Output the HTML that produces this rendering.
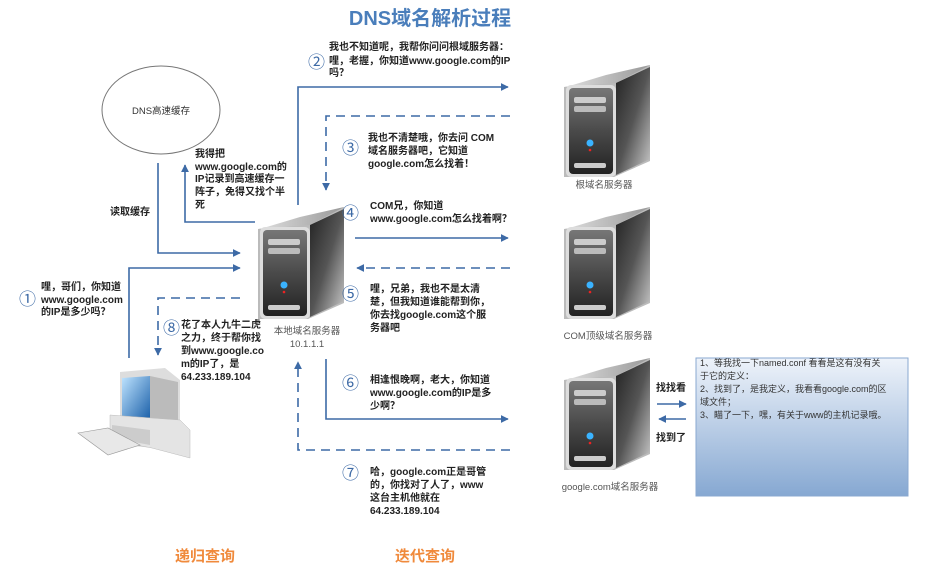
<!DOCTYPE html>
<html><head><meta charset="utf-8"><style>
body{margin:0;background:#fff}
svg{display:block}
text{font-family:"Liberation Sans","Noto Sans CJK SC",sans-serif}
.t{font-size:10px;font-weight:bold;fill:#222}
.n{font-size:17px;fill:#3d6aa6}
.l{font-size:9.5px;fill:#555}
</style></head><body>
<svg width="944" height="574" viewBox="0 0 944 574">
<defs>
<marker id="a" viewBox="0 0 10 10" refX="9" refY="5" markerWidth="5" markerHeight="5" orient="auto"><path d="M0,0L10,5L0,10z" fill="#3d6aa6"/></marker>
<linearGradient id="side" x1="0" y1="0" x2="1" y2="1"><stop offset="0" stop-color="#222"/><stop offset=".5" stop-color="#555"/><stop offset="1" stop-color="#ccc"/></linearGradient>
<linearGradient id="front" x1="0" y1="0" x2="0" y2="1"><stop offset="0" stop-color="#777"/><stop offset=".5" stop-color="#4a4a4a"/><stop offset="1" stop-color="#222"/></linearGradient>
<linearGradient id="top" x1="0" y1="0" x2="1" y2="0"><stop offset="0" stop-color="#ddd"/><stop offset="1" stop-color="#999"/></linearGradient>
<linearGradient id="box" x1="0" y1="0" x2="0" y2="1"><stop offset="0" stop-color="#eef3fa"/><stop offset="1" stop-color="#86a8d2"/></linearGradient>
<linearGradient id="scr" x1="0" y1="0" x2="1" y2="1"><stop offset="0" stop-color="#bfe4ff"/><stop offset="1" stop-color="#1a5fa8"/></linearGradient>
<g id="srv">
<path d="M2,22 L50,14 L88,0 L88,96 L52,112 L2,112z" fill="#bbb"/>
<path d="M4,22 L44,10 L88,0 L54,18z" fill="url(#top)"/>
<path d="M54,18 L88,2 L88,94 L54,110z" fill="url(#side)"/>
<rect x="4" y="20" width="50" height="92" rx="5" fill="#ddd"/>
<rect x="7" y="23" width="44" height="86" rx="4" fill="url(#front)"/>
<rect x="12" y="32" width="32" height="6" rx="2" fill="#ccc"/>
<rect x="12" y="41" width="32" height="6" rx="2" fill="#bbb"/>
<rect x="12" y="98" width="32" height="5" rx="2" fill="#ccc"/>
<circle cx="28" cy="78" r="3.5" fill="#3ab3ff"/>
<circle cx="28" cy="85" r="1.3" fill="#e22"/>
</g>
</defs>

<text x="430" y="25" text-anchor="middle" style="font-size:20px;font-weight:bold;fill:#4a7ebb">DNS域名解析过程</text>

<ellipse cx="161" cy="110" rx="59" ry="44" fill="#fff" stroke="#777" stroke-width="1"/>
<text x="161" y="114" text-anchor="middle" class="l" style="fill:#333">DNS高速缓存</text>

<g fill="none" stroke="#3d6aa6" stroke-width="1.6">
<path d="M158,163V253H240" marker-end="url(#a)"/>
<path d="M255,222H185V165" marker-end="url(#a)"/>
<path d="M129,358V268H240" marker-end="url(#a)"/>
<path d="M240,298H158V355" stroke-dasharray="9,6" marker-end="url(#a)"/>
<path d="M298,205V87H508" marker-end="url(#a)"/>
<path d="M510,116H326V190" stroke-dasharray="9,6" marker-end="url(#a)"/>
<path d="M355,238H508" marker-end="url(#a)"/>
<path d="M510,268H357" stroke-dasharray="9,6" marker-end="url(#a)"/>
<path d="M326,359V419H508" marker-end="url(#a)"/>
<path d="M510,450H298V362" stroke-dasharray="9,6" marker-end="url(#a)"/>
<path d="M657,404H686" marker-end="url(#a)"/>
<path d="M686,419H659" marker-end="url(#a)"/>
</g>

<use href="#srv" x="256" y="207"/>
<use href="#srv" x="562" y="65"/>
<use href="#srv" x="562" y="207"/>
<use href="#srv" x="562" y="358"/>

<g>
<path d="M120,372 L165,368 L180,380 L180,450 L120,445z" fill="#ddd"/>
<path d="M122,378 L150,376 L150,420 L122,418z" fill="url(#scr)"/>
<path d="M150,376 L178,382 L178,440 L150,430z" fill="#bbb"/>
<path d="M110,415 L180,420 L190,430 L190,458 L152,448 L110,440z" fill="#e4e4e4" stroke="#bbb" stroke-width=".5"/>
<path d="M112,425 L150,430 L150,445 L112,438z" fill="#ccc"/>
<path d="M78,433 L108,428 L140,445 L108,455z" fill="#e8e8e8" stroke="#999" stroke-width=".6"/>
</g>

<rect x="696" y="358" width="212" height="138" fill="url(#box)" stroke="#8aa8d0" stroke-width="1"/>
<g class="l" style="fill:#333;font-size:9px">
<text x="700" y="366">1、等我找一下named.conf 看看是这有没有关</text>
<text x="700" y="379">于它的定义：</text>
<text x="700" y="392">2、找到了，是我定义，我看看google.com的区</text>
<text x="700" y="405">域文件；</text>
<text x="700" y="418">3、瞄了一下，嘿，有关于www的主机记录哦。</text>
</g>

<g class="n">
<text x="308" y="68">②</text><text x="342" y="154">③</text><text x="342" y="219">④</text>
<text x="342" y="300">⑤</text><text x="342" y="389">⑥</text><text x="342" y="479">⑦</text>
<text x="163" y="334">⑧</text><text x="19" y="305">①</text>
</g>

<g class="t">
<text x="329" y="50">我也不知道呢，我帮你问问根域服务器：</text>
<text x="329" y="64">哩，老握，你知道www.google.com的IP</text>
<text x="329" y="76">吗？</text>
<text x="368" y="141">我也不清楚哦，你去问 COM</text>
<text x="368" y="154">域名服务器吧，它知道</text>
<text x="368" y="167">google.com怎么找着！</text>
<text x="370" y="209">COM兄，你知道</text>
<text x="370" y="222">www.google.com怎么找着啊？</text>
<text x="370" y="292">哩，兄弟，我也不是太清</text>
<text x="370" y="305">楚，但我知道谁能帮到你，</text>
<text x="370" y="318">你去找google.com这个服</text>
<text x="370" y="331">务器吧</text>
<text x="370" y="383">相逢恨晚啊，老大，你知道</text>
<text x="370" y="396">www.google.com的IP是多</text>
<text x="370" y="409">少啊？</text>
<text x="370" y="475">哈，google.com正是哥管</text>
<text x="370" y="488">的，你找对了人了，www</text>
<text x="370" y="501">这台主机他就在</text>
<text x="370" y="514">64.233.189.104</text>
<text x="181" y="328">花了本人九牛二虎</text>
<text x="181" y="341">之力，终于帮你找</text>
<text x="181" y="354">到www.google.co</text>
<text x="181" y="367">m的IP了，是</text>
<text x="181" y="380">64.233.189.104</text>
<text x="41" y="290">哩，哥们，你知道</text>
<text x="41" y="303">www.google.com</text>
<text x="41" y="315">的IP是多少吗？</text>
<text x="195" y="157">我得把</text>
<text x="195" y="170">www.google.com的</text>
<text x="195" y="182">IP记录到高速缓存一</text>
<text x="195" y="195">阵子，免得又找个半</text>
<text x="195" y="208">死</text>
<text x="110" y="215">读取缓存</text>
<text x="656" y="391">找找看</text>
<text x="656" y="441">找到了</text>
</g>

<g class="l" text-anchor="middle">
<text x="307" y="334">本地域名服务器</text>
<text x="307" y="347">10.1.1.1</text>
<text x="604" y="188">根域名服务器</text>
<text x="608" y="339">COM顶级域名服务器</text>
<text x="610" y="490">google.com域名服务器</text>
</g>

<text x="205" y="561" text-anchor="middle" style="font-size:15px;font-weight:bold;fill:#f08a3c">递归查询</text>
<text x="425" y="561" text-anchor="middle" style="font-size:15px;font-weight:bold;fill:#f08a3c">迭代查询</text>
</svg>
</body></html>
